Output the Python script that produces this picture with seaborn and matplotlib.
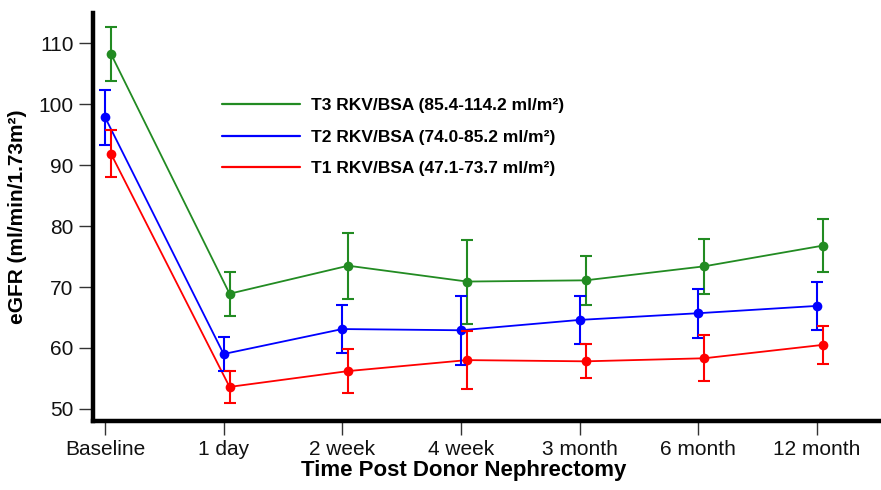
import numpy as np
import pandas as pd
import matplotlib
matplotlib.use("Agg")
import matplotlib.pyplot as plt
import seaborn as sns

timepoints = ["Baseline", "1 day", "2 week", "4 week", "3 month", "6 month", "12 month"]
series_names = ["T3 RKV/BSA (85.4-114.2 ml/m\u00b2)",
                "T2 RKV/BSA (74.0-85.2 ml/m\u00b2)",
                "T1 RKV/BSA (47.1-73.7 ml/m\u00b2)"]
t3_mean = [108.3, 68.9, 73.5, 70.9, 71.1, 73.4, 76.8]
t3_err = [4.4, 3.6, 5.4, 6.9, 4.0, 4.5, 4.3]
t2_mean = [97.9, 59.0, 63.1, 62.9, 64.6, 65.7, 66.9]
t2_err = [4.5, 2.8, 4.0, 5.7, 4.0, 4.0, 3.9]
t1_mean = [91.9, 53.6, 56.2, 58.0, 57.8, 58.3, 60.5]
t1_err = [3.9, 2.6, 3.6, 4.7, 2.8, 3.8, 3.1]

colors = ["#228B22", "#0000FF", "#FF0000"]
offsets = [0.05, 0.0, 0.05]

sns.set_theme(style="ticks")
plt.rcParams["font.family"] = ["Liberation Sans", "DejaVu Sans"]
plt.rcParams["text.color"] = "black"
plt.rcParams["axes.labelcolor"] = "black"

means = [t3_mean, t2_mean, t1_mean]
errs = [t3_err, t2_err, t1_err]
rows = []
for name, m, e, off in zip(series_names, means, errs, offsets):
    for i, (v, s) in enumerate(zip(m, e)):
        rows.append({"series": name, "x": i + off, "eGFR": v, "err": s})
df = pd.DataFrame(rows)

fig = plt.figure(figsize=(8.81, 4.9), dpi=100)
ax = fig.add_axes([93 / 881, 1 - 421 / 490, 1 - 93 / 881, (421 - 13) / 490])

sns.lineplot(data=df, x="x", y="eGFR", hue="series", hue_order=series_names,
             palette=colors, marker="o", markersize=7, markeredgewidth=0,
             linewidth=1.3, ax=ax, legend=False, errorbar=None)
for name, c in zip(series_names, colors):
    d = df[df["series"] == name]
    ax.errorbar(d["x"], d["eGFR"], yerr=d["err"], fmt="none", ecolor=c,
                elinewidth=1.5, capsize=4, capthick=1.5)

ax.set_xlim(-0.101, 6.54)
ax.set_ylim(48, 115)
ax.set_xticks(range(len(timepoints)))
ax.set_xticklabels(timepoints)
ax.set_yticks([50, 60, 70, 80, 90, 100, 110])
ax.tick_params(axis="both", direction="out", length=10, width=1.0, color="#333333",
               labelsize=15, pad=4, labelcolor="#111111")
for side in ["top", "right"]:
    ax.spines[side].set_visible(False)
for side in ["left", "bottom"]:
    ax.spines[side].set_linewidth(3.2)
    ax.spines[side].set_color("black")

ax.set_xlabel("Time Post Donor Nephrectomy", fontsize=16, fontweight="bold", labelpad=0)
ax.xaxis.set_label_coords((464 - 93) / 788, -0.095)
ax.set_ylabel("eGFR (ml/min/1.73m\u00b2)", fontsize=15, fontweight="bold", labelpad=8)

handles = [plt.Line2D([0], [0], color=c, linewidth=1.6) for c in colors]
leg = ax.legend(handles, series_names, loc="upper left",
                bbox_to_anchor=(222 / 881, 1 - 98 / 490), bbox_transform=fig.transFigure,
                frameon=False, borderpad=0, borderaxespad=0, handlelength=4.5,
                handletextpad=0.6, labelspacing=0.95,
                prop={"size": 12.5, "weight": "bold", "family": ["Liberation Sans", "DejaVu Sans"]})

fig.savefig("out.png", dpi=100)
